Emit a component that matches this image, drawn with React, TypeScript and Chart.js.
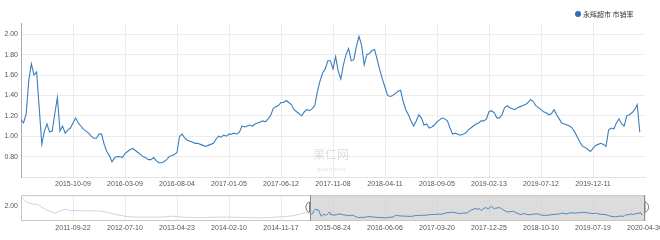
import React, { useEffect, useRef } from 'react';
import { Chart, registerables } from 'chart.js';

Chart.register(...registerables);

// ---------- data ----------
const seriesName = '永辉超市 市销率';
const watermarkTitle = '果仁网';
const watermarkSite = 'guorn.com';

// main view: weekly samples, 2015-05 .. 2020-04 (x = week index)
const mainSpanWeeks = 240;
const mainTickLabels = [
  '2015-10-09', '2016-03-09', '2016-08-04', '2017-01-05', '2017-06-12', '2017-11-08',
  '2018-04-11', '2018-09-05', '2019-02-13', '2019-07-12', '2019-12-11',
];
const mainYTicks = [0.8, 1.0, 1.2, 1.4, 1.6, 1.8, 2.0];
const mainValues = [
  1.16, 1.13, 1.22, 1.55, 1.71, 1.60, 1.63, 1.28, 0.92, 1.05,
  1.12, 1.04, 1.05, 1.22, 1.38, 1.05, 1.10, 1.03, 1.06, 1.08,
  1.13, 1.18, 1.13, 1.10, 1.07, 1.05, 1.03, 1.00, 0.98, 0.98,
  1.02, 1.02, 0.92, 0.85, 0.81, 0.75, 0.79, 0.80, 0.80, 0.79,
  0.83, 0.85, 0.87, 0.88, 0.86, 0.84, 0.82, 0.80, 0.79, 0.77,
  0.77, 0.79, 0.76, 0.74, 0.74, 0.75, 0.77, 0.80, 0.81, 0.82,
  0.84, 1.00, 1.02, 0.98, 0.96, 0.95, 0.94, 0.93, 0.93, 0.92,
  0.91, 0.90, 0.91, 0.92, 0.93, 0.97, 1.00, 0.99, 1.01, 1.00,
  1.02, 1.02, 1.03, 1.02, 1.04, 1.10, 1.09, 1.10, 1.11, 1.10,
  1.12, 1.13, 1.14, 1.15, 1.14, 1.17, 1.20, 1.27, 1.29, 1.30,
  1.33, 1.33, 1.35, 1.33, 1.31, 1.26, 1.24, 1.22, 1.20, 1.24,
  1.26, 1.25, 1.27, 1.30, 1.44, 1.54, 1.62, 1.66, 1.74, 1.74,
  1.66, 1.78, 1.64, 1.56, 1.70, 1.80, 1.86, 1.74, 1.75, 1.88,
  1.98, 1.89, 1.70, 1.80, 1.81, 1.84, 1.85, 1.75, 1.65, 1.56,
  1.48, 1.40, 1.39, 1.40, 1.42, 1.44, 1.45, 1.34, 1.26, 1.21,
  1.15, 1.10, 1.15, 1.21, 1.18, 1.11, 1.12, 1.08, 1.09, 1.11,
  1.14, 1.16, 1.18, 1.17, 1.15, 1.08, 1.02, 1.03, 1.02, 1.01,
  1.02, 1.03, 1.06, 1.08, 1.10, 1.12, 1.13, 1.15, 1.15, 1.17,
  1.24, 1.25, 1.23, 1.18, 1.18, 1.21, 1.28, 1.30, 1.28, 1.27,
  1.26, 1.28, 1.29, 1.30, 1.31, 1.33, 1.36, 1.34, 1.30, 1.28,
  1.26, 1.24, 1.23, 1.21, 1.22, 1.26, 1.21, 1.17, 1.13, 1.12,
  1.11, 1.10, 1.08, 1.04, 0.99, 0.94, 0.90, 0.89, 0.87, 0.85,
  0.88, 0.91, 0.92, 0.93, 0.92, 0.90, 1.06, 1.08, 1.07, 1.13,
  1.17, 1.12, 1.10, 1.20, 1.21, 1.23, 1.26, 1.31, 1.04,
];

// overview (full history 2010-12 .. 2020-04), x = week index
const overviewSpanWeeks = 447;
const mainStartWeek = 207;
const earlyStepWeeks = 4;
const overviewTickLabels = [
  '2011-09-22', '2012-07-10', '2013-04-23', '2014-02-10', '2014-11-17', '2015-08-24',
  '2016-06-06', '2017-03-20', '2017-12-25', '2018-10-10', '2019-07-19', '2020-04-30',
];
const overviewYTicks = [2.0];
const earlyValues = [
  3.05, 2.45, 2.25, 2.20, 1.80, 1.50, 1.25, 1.50, 1.68, 1.52,
  1.55, 1.50, 1.52, 1.48, 1.50, 1.40, 1.25, 1.10, 1.00, 0.88,
  0.84, 0.82, 0.83, 0.82, 0.81, 0.83, 0.86, 0.92, 0.88, 0.82,
  0.80, 0.77, 0.75, 0.78, 0.80, 0.82, 0.83, 0.82, 0.81, 0.80,
  0.78, 0.76, 0.75, 0.75, 0.76, 0.80, 0.84, 0.88, 0.92, 1.00,
  1.15, 1.35,
];

// ---------- styles ----------
const LINE = '#3a7ec0';
const LINE_LIGHT = '#c3d6ea';
const TICK_COLOR = '#555';
const GRID = '#ececec';
const FONT_FAMILY = '"Liberation Sans", Arial, sans-serif';
const CJK_FONT = '"Noto Sans CJK SC", sans-serif';

const legendPlugin = {
  id: 'customLegend',
  afterDraw(chart: any) {
    const ctx = chart.ctx;
    ctx.save();
    ctx.fillStyle = '#2a6fb8';
    ctx.beginPath();
    ctx.arc(578, 14, 3, 0, Math.PI * 2);
    ctx.fill();
    ctx.fillStyle = '#333';
    ctx.font = '7px ' + CJK_FONT;
    ctx.textBaseline = 'middle';
    ctx.textAlign = 'left';
    ctx.fillText(seriesName, 583, 14.5);
    ctx.restore();
  },
};

const watermarkPlugin = {
  id: 'watermark',
  beforeDatasetsDraw(chart: any) {
    const ctx = chart.ctx;
    ctx.save();
    ctx.textAlign = 'center';
    ctx.textBaseline = 'middle';
    ctx.fillStyle = 'rgba(0,0,0,0.13)';
    ctx.font = '12px ' + CJK_FONT;
    ctx.fillText(watermarkTitle, 331, 154);
    ctx.font = '6px ' + FONT_FAMILY;
    ctx.fillText(watermarkSite, 331, 169);
    ctx.restore();
  },
};

const windowPlugin = {
  id: 'zoomWindow',
  beforeDatasetsDraw(chart: any) {
    const { ctx, chartArea } = chart;
    const xs = chart.scales.x;
    const x0 = xs.getPixelForValue(mainStartWeek);
    ctx.save();
    ctx.fillStyle = 'rgba(205,205,205,0.7)';
    ctx.fillRect(x0, chartArea.top, chartArea.right - x0, chartArea.bottom - chartArea.top);
    ctx.restore();
  },
  afterDraw(chart: any) {
    const { ctx, chartArea } = chart;
    const xs = chart.scales.x;
    const x0 = xs.getPixelForValue(mainStartWeek);
    ctx.save();
    ctx.strokeStyle = '#c8c8c8';
    ctx.lineWidth = 1;
    ctx.strokeRect(chartArea.left + 0.5, chartArea.top + 0.5, chartArea.right - chartArea.left - 1, chartArea.bottom - chartArea.top - 1);
    ctx.strokeStyle = '#8a8a8a';
    ctx.beginPath();
    ctx.moveTo(Math.round(x0) + 0.5, chartArea.top);
    ctx.lineTo(Math.round(x0) + 0.5, chartArea.bottom);
    ctx.moveTo(chartArea.right - 0.5, chartArea.top);
    ctx.lineTo(chartArea.right - 0.5, chartArea.bottom);
    ctx.stroke();
    const cy = (chartArea.top + chartArea.bottom) / 2 - 1;
    ctx.strokeStyle = '#777';
    ctx.fillStyle = 'rgba(255,255,255,0.85)';
    // left handle
    ctx.beginPath();
    ctx.ellipse(x0 - 0.5, cy, 3.5, 5, 0, Math.PI / 2, Math.PI * 1.5);
    ctx.closePath();
    ctx.fill();
    ctx.stroke();
    // right handle
    ctx.beginPath();
    ctx.ellipse(chartArea.right, cy, 3.5, 5, 0, -Math.PI / 2, Math.PI / 2);
    ctx.closePath();
    ctx.fill();
    ctx.stroke();
    ctx.restore();
  },
};

function MainChart() {
  const ref = useRef<HTMLCanvasElement | null>(null);
  useEffect(() => {
    if (!ref.current) return;
    const chart = new Chart(ref.current, {
      type: 'line',
      data: {
        datasets: [
          {
            label: seriesName,
            data: mainValues.map((v, i) => ({ x: i, y: v })),
            borderColor: LINE,
            borderWidth: 1.1,
            pointRadius: 0,
            tension: 0,
            fill: false,
          },
        ],
      },
      options: {
        animation: false,
        responsive: false,
        maintainAspectRatio: false,
        layout: { padding: { top: 23, right: 15, left: 0, bottom: 0 } },
        plugins: { legend: { display: false }, tooltip: { enabled: false } },
        scales: {
          x: {
            type: 'linear',
            min: 0,
            max: mainSpanWeeks,
            afterBuildTicks: (s: any) => {
              s.ticks = mainTickLabels.map((_, k) => ({ value: ((k + 1) * mainSpanWeeks) / (mainTickLabels.length + 1) }));
            },
            ticks: {
              autoSkip: false,
              maxRotation: 0,
              padding: 3,
              color: TICK_COLOR,
              font: { size: 7, family: FONT_FAMILY },
              callback: (_v: any, i: number) => mainTickLabels[i],
            },
            grid: { color: GRID, drawTicks: false },
            border: { color: '#e2e2e2' },
            afterFit: (s: any) => {
              s.height = 13;
              s.paddingLeft = 0;
              s.paddingRight = 0;
            },
          },
          y: {
            min: 0.6,
            max: 2.11,
            afterBuildTicks: (s: any) => {
              s.ticks = mainYTicks.map((v) => ({ value: v }));
            },
            ticks: {
              padding: 3,
              color: TICK_COLOR,
              font: { size: 7, family: FONT_FAMILY },
              callback: (v: any) => Number(v).toFixed(2),
            },
            grid: { color: GRID, drawTicks: false },
            border: { color: '#aaa' },
            afterFit: (s: any) => {
              s.width = 21;
            },
          },
        },
      },
      plugins: [legendPlugin, watermarkPlugin],
    } as any);
    return () => chart.destroy();
  }, []);
  return <canvas ref={ref} width={660} height={190} style={{ position: 'absolute', left: 0, top: 0, width: 660, height: 190 }} />;
}

function OverviewChart() {
  const ref = useRef<HTMLCanvasElement | null>(null);
  useEffect(() => {
    if (!ref.current) return;
    const earlyData = earlyValues.map((v, i) => ({ x: i * earlyStepWeeks, y: v }));
    earlyData.push({ x: mainStartWeek, y: mainValues[0] });
    const chart = new Chart(ref.current, {
      type: 'line',
      data: {
        datasets: [
          {
            label: 'early',
            data: earlyData,
            borderColor: LINE_LIGHT,
            borderWidth: 1,
            pointRadius: 0,
            tension: 0,
            fill: false,
          },
          {
            label: seriesName,
            data: mainValues.map((v, i) => ({ x: mainStartWeek + i, y: v })),
            borderColor: '#4a84bd',
            borderWidth: 1,
            pointRadius: 0,
            tension: 0,
            fill: false,
          },
        ],
      },
      options: {
        animation: false,
        responsive: false,
        maintainAspectRatio: false,
        layout: { padding: { top: 5, right: 15, left: 0, bottom: 0 } },
        plugins: { legend: { display: false }, tooltip: { enabled: false } },
        scales: {
          x: {
            type: 'linear',
            min: 0,
            max: overviewSpanWeeks,
            afterBuildTicks: (s: any) => {
              s.ticks = overviewTickLabels.map((_, k) => ({ value: ((k + 1) * overviewSpanWeeks) / overviewTickLabels.length }));
            },
            ticks: {
              autoSkip: false,
              maxRotation: 0,
              padding: 3,
              color: TICK_COLOR,
              font: { size: 7, family: FONT_FAMILY },
              callback: (_v: any, i: number) => overviewTickLabels[i],
            },
            grid: { color: '#eaeaea', drawTicks: false },
            border: { display: false },
            afterFit: (s: any) => {
              s.height = 19;
              s.paddingLeft = 0;
              s.paddingRight = 0;
            },
          },
          y: {
            min: 0.4,
            max: 3.2,
            afterBuildTicks: (s: any) => {
              s.ticks = overviewYTicks.map((v) => ({ value: v }));
            },
            ticks: {
              padding: 3,
              color: TICK_COLOR,
              font: { size: 7, family: FONT_FAMILY },
              callback: (v: any) => Number(v).toFixed(2),
            },
            grid: { display: false, drawTicks: false },
            border: { display: false },
            afterFit: (s: any) => {
              s.width = 21;
            },
          },
        },
      },
      plugins: [windowPlugin],
    } as any);
    return () => chart.destroy();
  }, []);
  return <canvas ref={ref} width={660} height={52} style={{ position: 'absolute', left: 0, top: 188, width: 660, height: 52 }} />;
}

export default function App() {
  return (
    <div style={{ position: 'absolute', left: 0, top: 0, width: 660, height: 240, background: '#fff', overflow: 'hidden' }}>
      <MainChart />
      <OverviewChart />
    </div>
  );
}
